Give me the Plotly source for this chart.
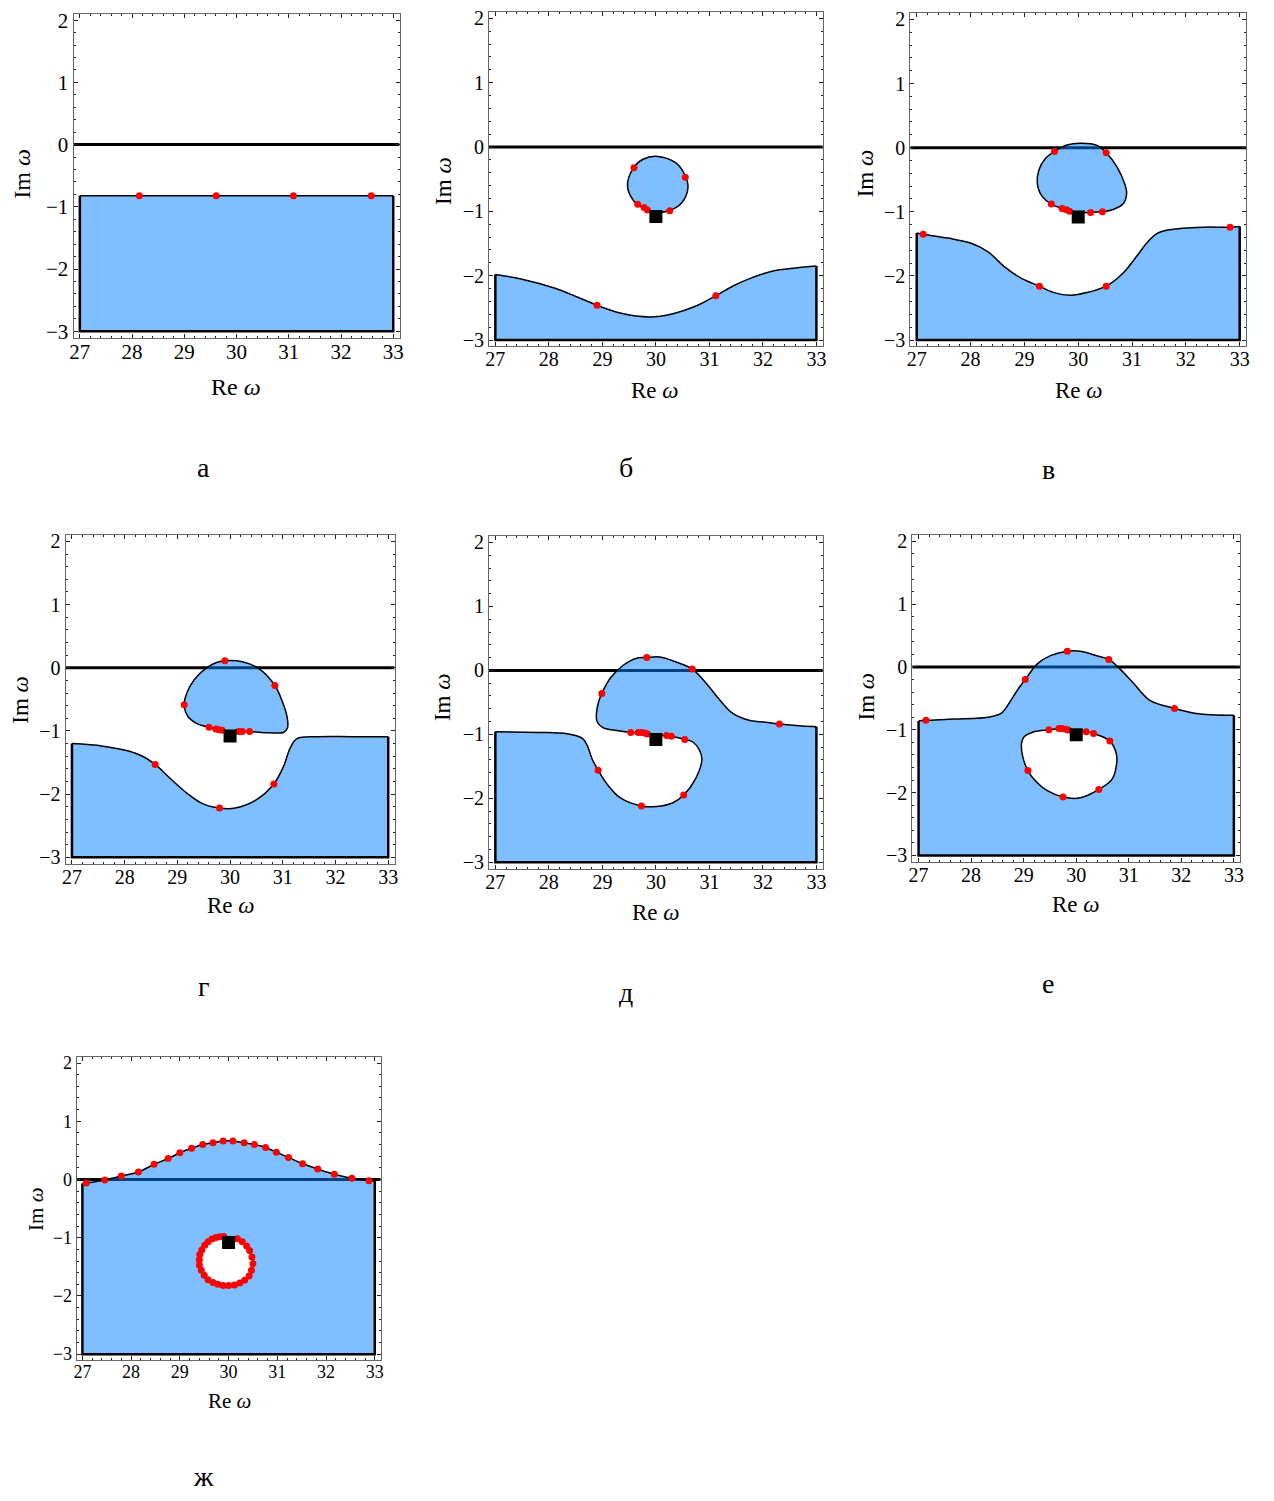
import plotly.graph_objects as go

# ---------------------------------------------------------------- common
W, H = 1274, 1501
FONT = "Liberation Serif"
RE_RANGE = [26.88, 33.12]
IM_RANGE = [-3.1, 2.1]
RE_LEFT, RE_RIGHT, IM_FLOOR = 27.0, 33.0, -3.0
OMEGA0_RE = [30.0]
OMEGA0_IM = [-1.08]

FILL = "rgba(0,128,255,0.5)"
DOT = "#ff0000"

# ---------------------------------------------------------------- panel а
a_curve_x = [27.0, 33.0]
a_curve_y = [-0.82, -0.82]
a_dots_x = [28.14, 29.61, 31.09, 32.58]
a_dots_y = [-0.82, -0.82, -0.82, -0.82]

# ---------------------------------------------------------------- panel б
b_curve_x = [27.0, 27.48, 28.10, 28.53, 28.90, 29.33, 29.89, 30.32, 30.75, 31.12, 31.49, 31.80, 32.17, 32.61, 33.0]
b_curve_y = [-1.98, -2.05, -2.19, -2.33, -2.46, -2.58, -2.64, -2.59, -2.47, -2.31, -2.14, -2.03, -1.93, -1.88, -1.85]
b_loop_x = [30.03, 30.38, 30.55, 30.60, 30.48, 30.24, 30.00, 29.78, 29.58, 29.47, 29.57, 29.76]
b_loop_y = [-0.145, -0.25, -0.45, -0.63, -0.87, -0.99, -1.01, -0.95, -0.83, -0.60, -0.34, -0.19]
b_dots_x = [29.59, 30.55, 29.66, 29.78, 29.84, 30.26, 28.90, 31.12]
b_dots_y = [-0.32, -0.47, -0.89, -0.94, -0.98, -0.99, -2.46, -2.31]

# ---------------------------------------------------------------- panel в
v_curve_x = [27.0, 27.12, 27.58, 28.01, 28.32, 28.62, 28.93, 29.28, 29.55, 29.86, 30.16, 30.52, 30.84, 31.09, 31.27, 31.46, 31.70, 32.32, 32.82, 33.0]
v_curve_y = [-1.33, -1.35, -1.41, -1.49, -1.62, -1.85, -2.03, -2.16, -2.26, -2.30, -2.26, -2.16, -1.95, -1.69, -1.49, -1.34, -1.28, -1.24, -1.24, -1.23]
v_loop_x = [30.04, 30.35, 30.52, 30.72, 30.87, 30.90, 30.84, 30.66, 30.45, 30.23, 29.98, 29.78, 29.50, 29.33, 29.24, 29.27, 29.39, 29.56, 29.79]
v_loop_y = [0.07, 0.036, -0.08, -0.30, -0.58, -0.71, -0.87, -0.96, -1.00, -1.01, -1.01, -0.97, -0.88, -0.76, -0.56, -0.35, -0.17, -0.06, 0.04]
v_dots_x = [29.56, 30.52, 29.50, 29.70, 29.78, 29.84, 30.23, 30.45, 27.12, 29.28, 30.52, 32.82]
v_dots_y = [-0.06, -0.08, -0.88, -0.95, -0.97, -0.99, -1.01, -1.00, -1.35, -2.16, -2.16, -1.24]

# ---------------------------------------------------------------- panel г
g_curve_x = [27.0, 27.59, 28.09, 28.34, 28.58, 28.85, 29.16, 29.48, 29.80, 30.10, 30.48, 30.83, 31.02, 31.14, 31.27, 31.68, 32.30, 33.0]
g_curve_y = [-1.20, -1.24, -1.32, -1.40, -1.53, -1.74, -1.97, -2.15, -2.22, -2.22, -2.10, -1.84, -1.55, -1.27, -1.12, -1.09, -1.09, -1.09]
g_loop_x = [29.90, 30.23, 30.54, 30.85, 30.98, 31.08, 31.09, 31.02, 30.73, 30.37, 30.02, 29.76, 29.55, 29.36, 29.20, 29.13, 29.18, 29.32, 29.54, 29.73]
g_loop_y = [0.11, 0.094, -0.01, -0.28, -0.51, -0.77, -0.95, -1.02, -1.03, -1.01, -1.01, -0.97, -0.93, -0.88, -0.77, -0.585, -0.40, -0.19, -0.01, 0.08]
g_dots_x = [29.90, 30.85, 29.13, 29.60, 29.73, 29.79, 29.85, 30.16, 30.23, 30.37, 28.58, 29.80, 30.83]
g_dots_y = [0.11, -0.28, -0.585, -0.94, -0.97, -0.98, -0.99, -1.01, -1.01, -1.01, -1.53, -2.22, -1.84]

# ---------------------------------------------------------------- panel д
d_curve_x = [27.0, 27.79, 28.34, 28.62, 28.71, 28.81, 28.92, 29.09, 29.33, 29.73, 30.01, 30.32, 30.52, 30.75,
             30.86, 30.81, 30.69, 30.54, 30.29, 30.01, 29.84, 29.53, 29.27, 29.02, 28.90, 28.89, 28.93, 28.99,
             29.15, 29.39, 29.64, 29.83, 30.07, 30.38, 30.68, 30.94, 31.19, 31.43, 31.74, 32.05, 32.31, 32.73, 33.0]
d_curve_y = [-0.96, -0.97, -0.99, -1.06, -1.16, -1.39, -1.56, -1.78, -1.99, -2.12, -2.13, -2.07, -1.95, -1.68,
             -1.39, -1.24, -1.12, -1.08, -1.03, -1.01, -0.995, -0.97, -0.94, -0.90, -0.80, -0.67, -0.49, -0.36,
             -0.12, 0.08, 0.19, 0.20, 0.21, 0.13, 0.02, -0.20, -0.46, -0.67, -0.78, -0.81, -0.84, -0.87, -0.88]
d_dots_x = [29.83, 30.68, 28.99, 32.31, 29.53, 29.67, 29.73, 29.79, 29.84, 30.20, 30.29, 30.54, 28.92, 29.73, 30.52]
d_dots_y = [0.20, 0.02, -0.36, -0.84, -0.97, -0.97, -0.97, -0.98, -0.995, -1.02, -1.03, -1.08, -1.56, -2.12, -1.95]

# ---------------------------------------------------------------- panel е
e_curve_x = [27.0, 27.14, 27.69, 28.32, 28.57, 28.72, 28.88, 29.03, 29.26, 29.51, 29.83, 30.08, 30.39, 30.62, 30.83, 31.09, 31.40, 31.87, 32.28, 33.0]
e_curve_y = [-0.86, -0.85, -0.83, -0.80, -0.74, -0.58, -0.37, -0.20, 0.05, 0.18, 0.25, 0.25, 0.18, 0.12, -0.03, -0.26, -0.53, -0.66, -0.74, -0.77]
e_hole_x = [29.20, 29.48, 29.73, 29.85, 30.05, 30.19, 30.33, 30.64, 30.76, 30.77, 30.68, 30.43, 30.20, 30.02, 29.75, 29.45, 29.20, 29.08, 28.98, 28.96, 29.01]
e_hole_y = [-1.03, -1.00, -0.98, -1.005, -1.01, -1.03, -1.06, -1.18, -1.37, -1.53, -1.79, -1.95, -2.05, -2.09, -2.07, -1.97, -1.79, -1.65, -1.42, -1.21, -1.11]
e_dots_x = [27.14, 29.03, 29.83, 30.62, 31.87, 29.48, 29.67, 29.73, 29.80, 29.85, 30.19, 30.33, 30.64, 29.08, 29.75, 30.43]
e_dots_y = [-0.85, -0.20, 0.25, 0.12, -0.66, -1.00, -0.98, -0.98, -0.99, -1.005, -1.03, -1.06, -1.18, -1.65, -2.07, -1.95]

# ---------------------------------------------------------------- panel ж
zh_curve_x = [27.0, 27.08, 27.46, 27.80, 28.15, 28.47, 28.76, 29.00, 29.24, 29.47, 29.68, 29.89, 30.09,
              30.32, 30.53, 30.76, 30.98, 31.23, 31.52, 31.83, 32.17, 32.53, 32.88, 33.0]
zh_curve_y = [-0.07, -0.06, -0.01, 0.06, 0.13, 0.26, 0.36, 0.46, 0.535, 0.60, 0.63, 0.66, 0.66,
              0.63, 0.60, 0.55, 0.47, 0.38, 0.27, 0.18, 0.09, 0.02, -0.02, -0.02]
zh_hole_x = [29.74, 29.82, 29.90, 30.18, 30.28, 30.37, 30.43, 30.48, 30.50, 30.47, 30.42, 30.33, 30.23, 30.12,
             30.00, 29.89, 29.78, 29.68, 29.58, 29.50, 29.44, 29.40, 29.40, 29.41, 29.45, 29.51, 29.58, 29.66]
zh_hole_y = [-0.996, -0.985, -0.979, -1.019, -1.07, -1.14, -1.22, -1.33, -1.445, -1.56, -1.656, -1.73, -1.776, -1.81,
             -1.82, -1.82, -1.80, -1.77, -1.72, -1.645, -1.56, -1.47, -1.38, -1.29, -1.21, -1.13, -1.07, -1.02]

# ---------------------------------------------------------------- layout of the seven frames
# frame (left, right, top, bottom) in pixels, fonts, title / caption centres
PANELS = [
    dict(tag="а", frame=(70, 398, 9, 335), tick=21, title=24, re=(233, 385), im=(18, 170), cap=(201, 466),
         curve=(a_curve_x, a_curve_y, "linear"), loop=None, hole=None, dots=(a_dots_x, a_dots_y), omega=False),
    dict(tag="б", frame=(488, 824, 7, 344), tick=20, title=23, re=(655, 388), im=(442, 177), cap=(626, 466),
         curve=(b_curve_x, b_curve_y, "spline"), loop=(b_loop_x, b_loop_y), hole=None, dots=(b_dots_x, b_dots_y), omega=True),
    dict(tag="в", frame=(912, 1250, 8, 344), tick=20, title=23, re=(1082, 388), im=(867, 170), cap=(1051, 468),
         curve=(v_curve_x, v_curve_y, "spline"), loop=(v_loop_x, v_loop_y), hole=None, dots=(v_dots_x, v_dots_y), omega=True),
    dict(tag="г", frame=(62, 393, 534, 865), tick=20, title=23, re=(228, 907), im=(17, 700), cap=(201, 989),
         curve=(g_curve_x, g_curve_y, "spline"), loop=(g_loop_x, g_loop_y), hole=None, dots=(g_dots_x, g_dots_y), omega=True),
    dict(tag="д", frame=(488, 824, 535, 870), tick=20, title=23, re=(656, 914), im=(442, 697), cap=(626, 995),
         curve=(d_curve_x, d_curve_y, "spline"), loop=None, hole=None, dots=(d_dots_x, d_dots_y), omega=True),
    dict(tag="е", frame=(914, 1244, 534, 863), tick=20, title=23, re=(1079, 906), im=(868, 697), cap=(1051, 986),
         curve=(e_curve_x, e_curve_y, "spline"), loop=None, hole=(e_hole_x, e_hole_y), dots=(e_dots_x, e_dots_y), omega=True),
    dict(tag="ж", frame=(73, 379, 1060, 1365), tick=18, title=21, re=(227, 1406), im=(32, 1213), cap=(201, 1482),
         curve=(zh_curve_x, zh_curve_y, "spline"), loop=None, hole=(zh_hole_x, zh_hole_y),
         dots=(zh_curve_x[1:-1] + zh_hole_x, zh_curve_y[1:-1] + zh_hole_y), omega=True),
]


def closed(v):
    return list(v) + [v[0]]


def sc(x, y, ax, ay, **kw):
    base = dict(x=x, y=y, xaxis=ax, yaxis=ay, hoverinfo="skip", showlegend=False)
    base.update(kw)
    return go.Scatter(**base)


fig = go.Figure()
annotations = []
layout_axes = {}

for i, p in enumerate(PANELS, start=1):
    sfx = "" if i == 1 else str(i)
    ax, ay = "x" + sfx, "y" + sfx
    L, R, T, B = p["frame"]

    axis_common = dict(
        showgrid=False, zeroline=False, showline=True, linecolor="#666666", linewidth=1,
        mirror="allticks", ticks="inside", ticklen=4, tickwidth=1, tickcolor="#222222",
        tickmode="linear", dtick=1, tick0=0,
        minor=dict(ticks="inside", dtick=0.2, ticklen=2, tickwidth=1, tickcolor="#222222", showgrid=False),
        tickfont=dict(family=FONT, size=p["tick"], color="black"), fixedrange=True,
    )
    layout_axes["xaxis" + sfx] = dict(axis_common, range=RE_RANGE, domain=[L / W, R / W],
                                      anchor=ay, ticklabelstandoff=-5)
    layout_axes["yaxis" + sfx] = dict(axis_common, range=IM_RANGE, domain=[1 - B / H, 1 - T / H], anchor=ax)

    # real axis Im ω = 0
    fig.add_trace(sc(RE_RANGE, [0, 0], ax, ay, mode="lines", line=dict(color="black", width=3)))

    # lower region: floor at Im ω = -3, filled up to the boundary curve
    cx, cy, shape = p["curve"]
    fig.add_trace(sc([RE_LEFT, RE_RIGHT], [IM_FLOOR, IM_FLOOR], ax, ay, mode="lines",
                     line=dict(width=0, color="rgba(0,0,0,0)")))
    fig.add_trace(sc(cx, cy, ax, ay, mode="lines", fill="tonexty", fillcolor=FILL,
                     line=dict(color="black", width=1.5, shape=shape)))

    # detached region (closed contour)
    if p["loop"] is not None:
        lx, ly = p["loop"]
        fig.add_trace(sc(closed(lx), closed(ly), ax, ay, mode="lines", fill="toself", fillcolor=FILL,
                         line=dict(color="black", width=1.5, shape="spline")))

    # hole inside the region
    if p["hole"] is not None:
        hx, hy = p["hole"]
        fig.add_trace(sc(closed(hx), closed(hy), ax, ay, mode="lines", fill="toself", fillcolor="white",
                         line=dict(color="black", width=1.5, shape="spline")))

    # side and bottom edges of the region
    fig.add_trace(sc([RE_LEFT, RE_LEFT, RE_RIGHT, RE_RIGHT], [cy[0], IM_FLOOR, IM_FLOOR, cy[-1]], ax, ay,
                     mode="lines", line=dict(color="black", width=2.5)))

    dx, dy = p["dots"]
    fig.add_trace(sc(dx, dy, ax, ay, mode="markers", marker=dict(color=DOT, size=7, line=dict(width=0))))

    if p["omega"]:
        fig.add_trace(sc(OMEGA0_RE, OMEGA0_IM, ax, ay, mode="markers",
                         marker=dict(symbol="square", color="black", size=13, line=dict(width=0))))

    rx, ry = p["re"]
    ix, iy = p["im"]
    kx, ky = p["cap"]
    annotations += [
        dict(text="Re <i>ω</i>", x=rx / W, y=1 - ry / H, xref="paper", yref="paper", showarrow=False,
             xanchor="center", yanchor="middle", font=dict(family=FONT, size=p["title"], color="black")),
        dict(text="Im <i>ω</i>", x=ix / W, y=1 - iy / H, xref="paper", yref="paper", showarrow=False,
             textangle=-90, xanchor="center", yanchor="middle", font=dict(family=FONT, size=p["title"], color="black")),
        dict(text=p["tag"], x=kx / W, y=1 - ky / H, xref="paper", yref="paper", showarrow=False,
             xanchor="center", yanchor="middle", font=dict(family=FONT, size=28, color="black")),
    ]

fig.update_layout(
    width=W, height=H, margin=dict(l=0, r=0, t=0, b=0),
    paper_bgcolor="white", plot_bgcolor="white", showlegend=False,
    annotations=annotations, **layout_axes,
)

fig.write_html("out.html", config=dict(displayModeBar=False))
